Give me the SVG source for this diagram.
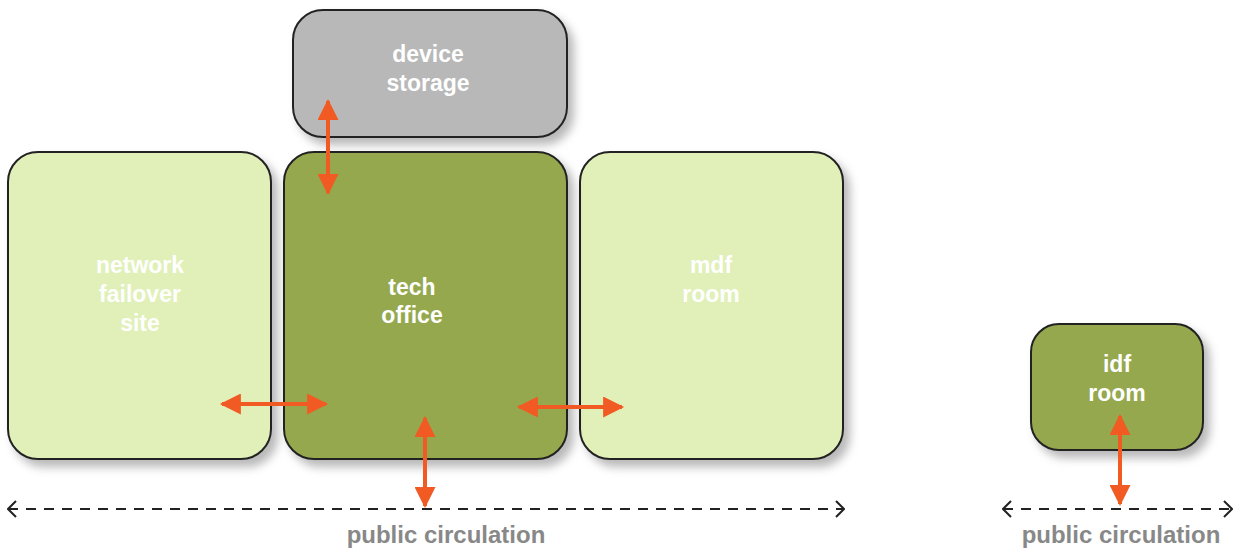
<svg xmlns="http://www.w3.org/2000/svg" width="1236" height="548" viewBox="0 0 1236 548">
<defs>
<filter id="sh" x="-10%" y="-10%" width="130%" height="130%">
<feDropShadow dx="6" dy="7" stdDeviation="5" flood-color="#000" flood-opacity="0.28"/>
</filter>
<marker id="oa" viewBox="0 0 10 10" refX="9" refY="5" markerWidth="28" markerHeight="21" markerUnits="userSpaceOnUse" orient="auto-start-reverse">
<path d="M0,0 L10,5 L0,10 z" fill="#f15a22"/>
</marker>
<marker id="ch" viewBox="0 0 10 20" refX="9" refY="10" markerWidth="10" markerHeight="20" markerUnits="userSpaceOnUse" orient="auto-start-reverse">
<path d="M1,2 L9,10 L1,18" fill="none" stroke="#222" stroke-width="2"/>
</marker>
<style>
.box{stroke:#222;stroke-width:2;filter:url(#sh)}
.light{fill:#e0f0b8}
.dark{fill:#95a84e}
.grey{fill:#b8b8b8}
.lbl{font-family:"Liberation Sans",Arial,sans-serif;font-weight:bold;font-size:23px;fill:#fff;text-anchor:middle}
.circ{font-family:"Liberation Sans",Arial,sans-serif;font-weight:bold;font-size:24px;fill:#888;text-anchor:middle}
.oarrow{stroke:#f15a22;stroke-width:4;fill:none;marker-start:url(#oa);marker-end:url(#oa)}
.dash{stroke:#222;stroke-width:2;stroke-dasharray:10,8;fill:none;marker-start:url(#ch);marker-end:url(#ch)}
</style>
</defs>
<g id="device-storage">
<rect class="box grey" x="293" y="10" width="274" height="127" rx="30"/>
<text class="lbl" x="428" y="62">device</text>
<text class="lbl" x="428" y="91">storage</text>
</g>
<g id="network-failover-site">
<rect class="box light" x="8" y="152" width="263" height="307" rx="30"/>
<text class="lbl" x="140" y="273">network</text>
<text class="lbl" x="140" y="302">failover</text>
<text class="lbl" x="140" y="331">site</text>
</g>
<g id="mdf-room">
<rect class="box light" x="580" y="152" width="263" height="307" rx="30"/>
<text class="lbl" x="711" y="273">mdf</text>
<text class="lbl" x="711" y="302">room</text>
</g>
<g id="tech-office">
<rect class="box dark" x="284" y="152" width="283" height="307" rx="30"/>
<text class="lbl" x="412" y="295">tech</text>
<text class="lbl" x="412" y="323">office</text>
</g>
<g id="idf-room">
<rect class="box dark" x="1031" y="324" width="172" height="126" rx="28"/>
<text class="lbl" x="1117" y="372">idf</text>
<text class="lbl" x="1117" y="401">room</text>
</g>
<g id="connectors">
<line class="oarrow" x1="328" y1="101" x2="328" y2="193"/>
<line class="oarrow" x1="222" y1="404" x2="326" y2="404"/>
<line class="oarrow" x1="519" y1="407" x2="622" y2="407"/>
<line class="oarrow" x1="425" y1="418" x2="425" y2="506"/>
<line class="oarrow" x1="1120" y1="416" x2="1120" y2="504"/>
<line class="dash" x1="8" y1="509" x2="844" y2="509"/>
<line class="dash" x1="1003" y1="509" x2="1232" y2="509"/>
</g>
<text class="circ" x="446" y="543">public circulation</text>
<text class="circ" x="1121" y="543">public circulation</text>
</svg>
